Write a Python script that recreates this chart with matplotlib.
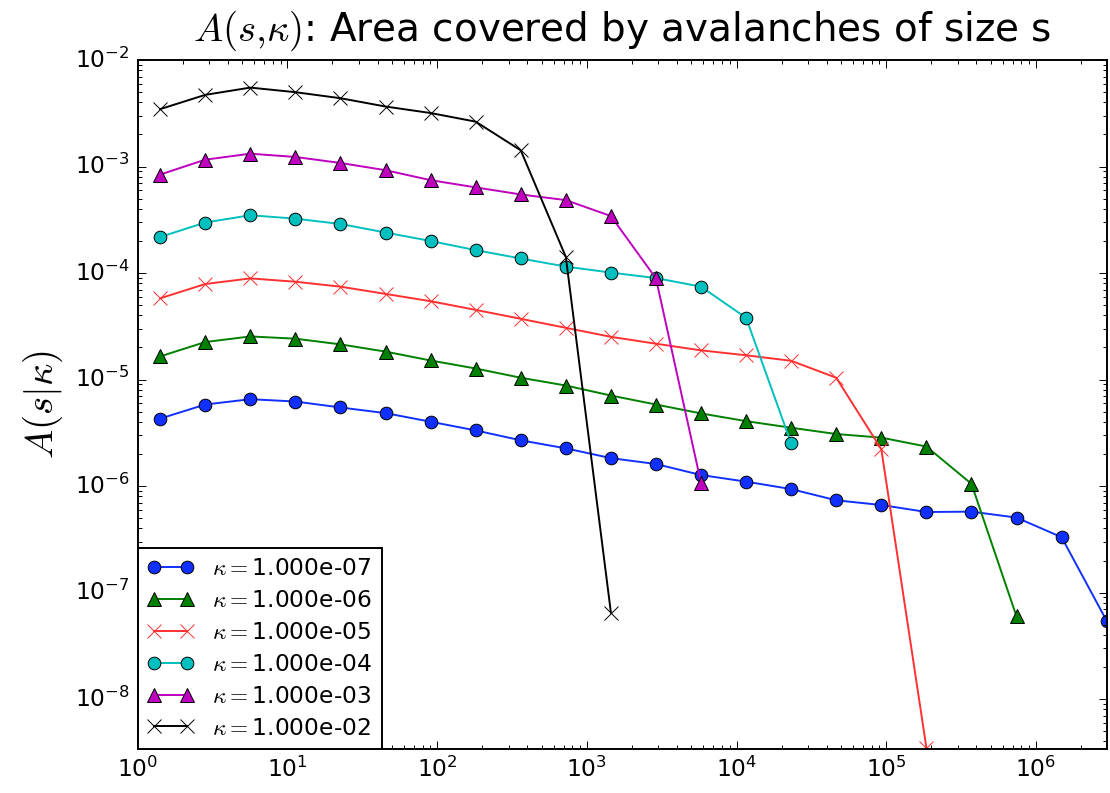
import matplotlib
matplotlib.use("Agg")
import matplotlib.pyplot as plt
from matplotlib.ticker import FixedLocator, LogLocator, NullFormatter

plt.style.use("classic")
plt.rcParams["mathtext.fontset"] = "cm"
plt.rcParams["font.family"] = ["DejaVu Sans"]

# avalanche size bins (log2-spaced bin centres)
sizes = [1.414, 2.828, 5.657, 11.31, 22.63, 45.25, 90.51, 181.0, 362.0, 724.1,
         1448.2, 2896.3, 5792.6, 11585, 23170, 46341, 92682, 185364, 370728,
         741455, 1482910, 2965821]

kappas = [1e-7, 1e-6, 1e-5, 1e-4, 1e-3, 1e-2]

area_k1e7 = [4.3e-6, 5.83e-6, 6.54e-6, 6.22e-6, 5.47e-6, 4.84e-6, 4.02e-6, 3.33e-6,
             2.69e-6, 2.26e-6, 1.83e-6, 1.61e-6, 1.27e-6, 1.10e-6, 9.37e-7, 7.35e-7,
             6.64e-7, 5.71e-7, 5.75e-7, 5.06e-7, 3.31e-7, 5.43e-8]
area_k1e6 = [1.65e-5, 2.25e-5, 2.54e-5, 2.42e-5, 2.14e-5, 1.83e-5, 1.51e-5, 1.27e-5,
             1.04e-5, 8.79e-6, 7.08e-6, 5.83e-6, 4.81e-6, 4.07e-6, 3.53e-6, 3.08e-6,
             2.85e-6, 2.35e-6, 1.05e-6, 5.97e-8]
area_k1e5 = [5.79e-5, 7.89e-5, 8.91e-5, 8.29e-5, 7.45e-5, 6.37e-5, 5.44e-5, 4.51e-5,
             3.72e-5, 3.06e-5, 2.52e-5, 2.17e-5, 1.88e-5, 1.69e-5, 1.50e-5, 1.04e-5,
             2.22e-6, 3.5e-9]
area_k1e4 = [2.18e-4, 2.98e-4, 3.49e-4, 3.24e-4, 2.89e-4, 2.40e-4, 2.00e-4, 1.64e-4,
             1.37e-4, 1.15e-4, 1.01e-4, 8.97e-5, 7.45e-5, 3.8e-5, 2.52e-6]
area_k1e3 = [8.41e-4, 1.16e-3, 1.32e-3, 1.23e-3, 1.08e-3, 9.24e-4, 7.45e-4, 6.37e-4,
             5.47e-4, 4.84e-4, 3.43e-4, 8.91e-5, 1.07e-6]
area_k1e2 = [3.46e-3, 4.71e-3, 5.51e-3, 4.99e-3, 4.38e-3, 3.66e-3, 3.18e-3, 2.64e-3,
             1.42e-3, 1.42e-4, 6.5e-8]

x_ticks = [1e0, 1e1, 1e2, 1e3, 1e4, 1e5, 1e6]
y_ticks = [1e-8, 1e-7, 1e-6, 1e-5, 1e-4, 1e-3, 1e-2]

series = [area_k1e7, area_k1e6, area_k1e5, area_k1e4, area_k1e3, area_k1e2]
styles = [("#1030ff", "o", 6.5), ("g", "^", 7), ("#ff3030", "x", 7),
          ("c", "o", 6.5), ("m", "^", 7), ("k", "x", 7)]

fig = plt.figure(figsize=(1110 / 140, 793 / 140), dpi=140, facecolor="white")
ax = fig.add_axes([0.124, 0.0555, 0.873, 0.8688])

for kappa, area, (col, mk, ms) in zip(kappas, series, styles):
    ax.loglog(sizes[:len(area)], area, color=col, marker=mk, markersize=ms,
              linewidth=1.0, label=r"$\kappa=$%.3e" % kappa)

ax.set_xlim(1, sizes[-1])
ax.set_ylim(3.4e-9, 1e-2)

# major ticks only at the decades inside the view; unlabeled minor ticks
ax.xaxis.set_major_locator(FixedLocator(x_ticks))
ax.yaxis.set_major_locator(FixedLocator(y_ticks))
for axis in (ax.xaxis, ax.yaxis):
    axis.set_minor_locator(LogLocator(base=10, subs=range(2, 10)))
    axis.set_minor_formatter(NullFormatter())

ax.set_title(r"$A(s{,}\kappa)$: Area covered by avalanches of size s",
             fontsize=20, pad=10)
ax.set_ylabel(r"$A(s|\kappa)$", fontsize=20)
ax.tick_params(labelsize=12)
leg = ax.legend(loc="lower left", numpoints=2, fontsize=12, borderaxespad=0,
                labelspacing=0.38, fancybox=False, shadow=False)

fig.savefig("out.png", dpi=140, facecolor="white")
